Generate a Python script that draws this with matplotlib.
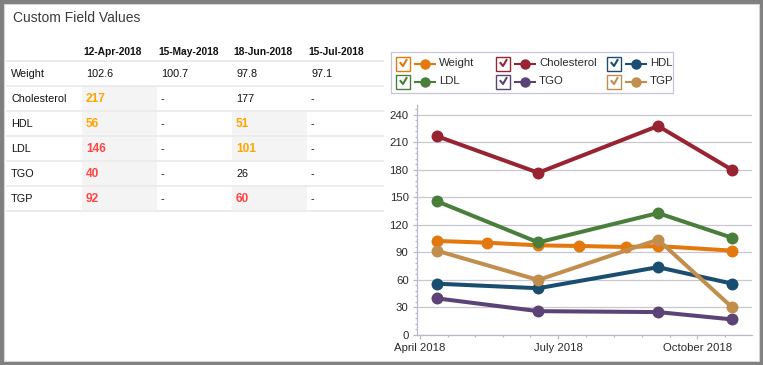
import numpy as np
import matplotlib
matplotlib.use("Agg")
import matplotlib.pyplot as plt
import matplotlib.dates as mdates
from matplotlib.patches import Rectangle
from matplotlib.lines import Line2D
from matplotlib.ticker import MultipleLocator, FixedLocator

plt.rcParams['font.family'] = ['Liberation Sans', 'DejaVu Sans']

# ---- data ----
table_dates = ['12-Apr-2018', '15-May-2018', '18-Jun-2018', '15-Jul-2018']
row_names = ['Weight', 'Cholesterol', 'HDL', 'LDL', 'TGO', 'TGP']
table_vals = [
    ['102.6', '100.7', '97.8', '97.1'],
    ['217', '-', '177', '-'],
    ['56', '-', '51', '-'],
    ['146', '-', '101', '-'],
    ['40', '-', '26', '-'],
    ['92', '-', '60', '-'],
]
# o = orange, r = red, '' = normal
table_flags = [
    ['', '', '', ''],
    ['o', '', '', ''],
    ['o', '', 'o', ''],
    ['r', '', 'o', ''],
    ['r', '', '', ''],
    ['r', '', 'r', ''],
]

weight_dates = ['2018-04-12', '2018-05-15', '2018-06-18', '2018-07-15',
                '2018-08-15', '2018-09-05', '2018-10-24']
weight = [102.6, 100.7, 97.8, 97.1, 96, 97, 92]
lab_dates = ['2018-04-12', '2018-06-18', '2018-09-05', '2018-10-24']
cholesterol = [217, 177, 228, 180]
hdl = [56, 51, 74, 56]
ldl = [146, 101, 133, 106]
tgo = [40, 26, 25, 17]
tgp = [92, 60, 104, 30]

series = [
    ('Weight', weight_dates, weight, '#E2780E'),
    ('Cholesterol', lab_dates, cholesterol, '#982433'),
    ('HDL', lab_dates, hdl, '#1A4E70'),
    ('LDL', lab_dates, ldl, '#4A7F3B'),
    ('TGO', lab_dates, tgo, '#5B4375'),
    ('TGP', lab_dates, tgp, '#C28E4E'),
]

W, H = 763, 365
fig = plt.figure(figsize=(W / 100, H / 100), dpi=100)
fig.patch.set_facecolor('#808080')


def fx(x):
    return x / W


def fy(y):
    return 1 - y / H


# panel
fig.patches.append(Rectangle((fx(4), fy(361)), fx(755), 357 / H, transform=fig.transFigure,
                             facecolor='white', edgecolor='#d4d4d4', lw=0.8, zorder=-10))

fig.text(fx(13), fy(18), 'Custom Field Values', fontsize=10, color='#3a3a3a', va='center')

# ---- table ----
col_x = [82, 157, 232, 307]
row_y = [74, 99, 124, 149, 174, 199]
# shaded cells
shade = [(0, r) for r in range(1, 6)] + [(2, 2), (2, 3), (2, 5)]
for c, r in shade:
    fig.patches.append(Rectangle((fx(col_x[c]), fy(row_y[r] + 12.5)), 75 / W, 25 / H,
                                 transform=fig.transFigure, facecolor='#f4f4f4',
                                 edgecolor='none', zorder=-5))
for yl in [61, 86, 111, 136, 161, 186, 211]:
    fig.lines.append(Line2D([fx(7), fx(383)], [fy(yl), fy(yl)], transform=fig.transFigure,
                            color='#ececec', lw=1.4, zorder=-4))
for c, d in enumerate(table_dates):
    fig.text(fx(col_x[c] + 1), fy(52), d, fontsize=7.4, fontweight='bold',
             color='#111111', va='center')
flag_col = {'o': '#FFA500', 'r': '#FF4545'}
for r, name in enumerate(row_names):
    fig.text(fx(11), fy(row_y[r]), name, fontsize=7.8, color='#111111', va='center')
    for c in range(4):
        f = table_flags[r][c]
        if f:
            fig.text(fx(col_x[c] + 4), fy(row_y[r]), table_vals[r][c], fontsize=8.6,
                     fontweight='bold', color=flag_col[f], va='center')
        else:
            fig.text(fx(col_x[c] + 4), fy(row_y[r]), table_vals[r][c], fontsize=7.8,
                     color='#111111', va='center')

# ---- chart ----
ax = fig.add_axes([fx(417), 30 / H, 335 / W, 230 / H])
ax.set_zorder(1)
ax.patch.set_alpha(0)
for name, d, v, col in series:
    ax.plot(np.array(d, dtype='datetime64[D]'), v, color=col, lw=2.9, marker='o',
            markersize=8.6, markeredgewidth=0, solid_capstyle='round', zorder=3)

ax.set_ylim(0, 250.9)
ax.set_xlim(mdates.date2num(np.datetime64('2018-03-30')), mdates.date2num(np.datetime64('2018-11-06')))
ax.yaxis.set_major_locator(MultipleLocator(30))
ax.yaxis.set_minor_locator(MultipleLocator(6))
qs = [np.datetime64('2018-04-01'), np.datetime64('2018-07-01'),
      np.datetime64('2018-10-01'), np.datetime64('2019-01-01')]
ax.xaxis.set_major_locator(FixedLocator([mdates.date2num(q) for q in qs[:3]]))
minor = []
for a, b in zip(qs[:-1], qs[1:]):
    na, nb = mdates.date2num(a), mdates.date2num(b)
    minor += [na + k * (nb - na) / 5 for k in range(1, 5)]
ax.xaxis.set_minor_locator(FixedLocator(minor))
ax.xaxis.set_major_formatter(mdates.DateFormatter('%B %Y'))

axc = '#b9b9cc'
for s in ['top', 'right']:
    ax.spines[s].set_visible(False)
for s in ['left', 'bottom']:
    ax.spines[s].set_color(axc)
    ax.spines[s].set_linewidth(0.9)
ax.grid(axis='y', which='major', color='#c8c8d2', lw=0.9, zorder=0)
ax.tick_params(axis='both', which='major', length=3, color=axc, labelsize=8.2,
               labelcolor='#2a2a2a', width=0.9)
ax.tick_params(axis='both', which='minor', length=1.6, color=axc, width=0.9)
ax.tick_params(axis='y', pad=3)
ax.tick_params(axis='x', pad=3)

# ---- legend ----
fig.patches.append(Rectangle((fx(391), fy(93)), 282 / W, 41 / H, transform=fig.transFigure,
                             facecolor='white', edgecolor='#c6c6d6', lw=0.9, zorder=2))
leg_x = [396, 496, 607]
leg_y = [63.5, 81.5]
for i, (name, d, v, col) in enumerate(series):
    x0 = leg_x[i % 3]
    y0 = leg_y[i // 3]
    fig.patches.append(Rectangle((fx(x0), fy(y0 + 7)), 14 / W, 14 / H, transform=fig.transFigure,
                                 facecolor='white', edgecolor=col, lw=1.0, zorder=3))
    fig.lines.append(Line2D([fx(x0 + 4.5), fx(x0 + 7), fx(x0 + 10.5)],
                            [fy(y0 - 0.5), fy(y0 + 2.5), fy(y0 - 3.5)],
                            transform=fig.transFigure, color=col, lw=1.5, zorder=4))
    fig.lines.append(Line2D([fx(x0 + 19), fx(x0 + 39)], [fy(y0), fy(y0)],
                            transform=fig.transFigure, color=col, lw=1.5, zorder=4))
    fig.lines.append(Line2D([fx(x0 + 29)], [fy(y0)], transform=fig.transFigure, color=col,
                            marker='o', markersize=7.5, markeredgewidth=0, zorder=5))
    fig.text(fx(x0 + 43), fy(y0), name, fontsize=8.2, color='#2a2a2a', va='center', zorder=5)

fig.savefig('out.png', dpi=100, facecolor=fig.get_facecolor())
